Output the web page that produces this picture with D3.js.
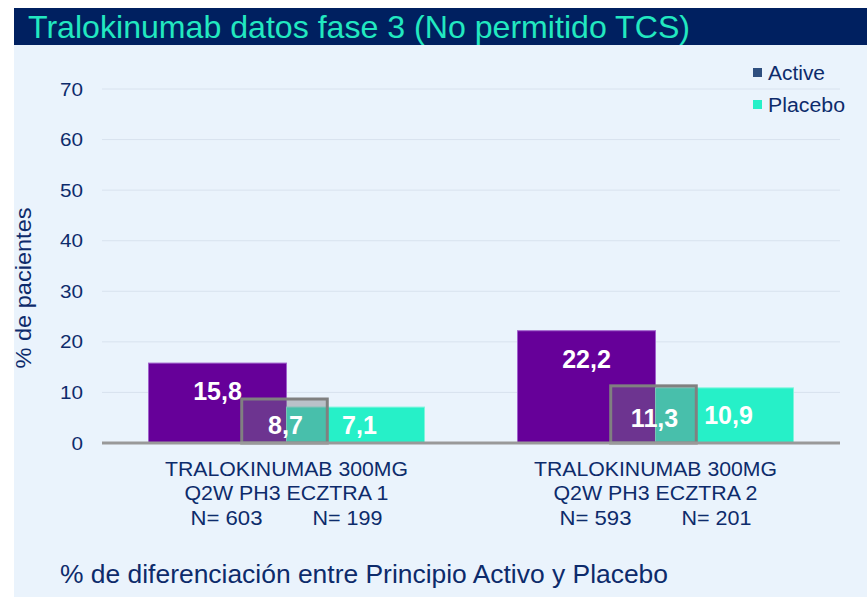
<!DOCTYPE html>
<html>
<head>
<meta charset="utf-8">
<script src="https://cdn.jsdelivr.net/npm/d3@7"></script>
<style>
  body { margin: 0; background: #fff; }
  text { font-family: "Liberation Sans", Arial, sans-serif; }
</style>
</head>
<body>
<div id="chart"></div>
<script>
const width = 867;
const height = 597;

// datos
const groups = ["ECZTRA 1", "ECZTRA 2"];
const groupLines = [
    ["TRALOKINUMAB 300MG", "Q2W PH3 ECZTRA 1"],
    ["TRALOKINUMAB 300MG", "Q2W PH3 ECZTRA 2"]
];
const nActive = [603, 593];
const nPlacebo = [199, 201];
const series = ["Active", "Placebo"];
const activeValues = [15.8, 22.2];
const placeboValues = [7.1, 10.9];
const diffValues = [8.7, 11.3];
const yTicks = [0, 10, 20, 30, 40, 50, 60, 70];

const navy = "#0d2b6b";
const colors = { Active: "#660099", Placebo: "#26f0c8" };
const legendColors = { Active: "#2f4f7f", Placebo: "#26f0c8" };

const svg = d3.select("#chart").append("svg")
    .attr("width", width)
    .attr("height", height);

// fondo + bandeau titre
svg.append("rect").attr("x", 14).attr("y", 8).attr("width", width - 14).attr("height", height - 8).attr("fill", "#eaf3fc");
svg.append("rect").attr("x", 14).attr("y", 8).attr("width", width - 14).attr("height", 37).attr("fill", "#002060");
svg.append("text")
    .attr("x", 28).attr("y", 38)
    .attr("fill", "#22e8c0")
    .attr("font-size", 32)
    .attr("textLength", 662).attr("lengthAdjust", "spacingAndGlyphs")
    .text("Tralokinumab datos fase 3 (No permitido TCS)");

const plot = { left: 102, right: 840, top: 89, bottom: 443 };

const y = d3.scaleLinear().domain([0, 70]).range([plot.bottom, plot.top]);
const x0 = d3.scaleBand().domain(groups).range([plot.left, plot.right]);
const x1 = d3.scaleBand().domain(series).range([0, x0.bandwidth()]).paddingOuter(0.337);

// grille
svg.append("g").selectAll("line")
    .data(yTicks.filter(d => d > 0))
    .join("line")
    .attr("x1", plot.left).attr("x2", plot.right)
    .attr("y1", d => y(d)).attr("y2", d => y(d))
    .attr("stroke", "#d8e2ee").attr("stroke-width", 1);

// axe Y
const yAxis = svg.append("g")
    .attr("transform", `translate(${plot.left},0)`)
    .call(d3.axisLeft(y).tickValues(yTicks).tickSize(0).tickPadding(19));
yAxis.select(".domain").remove();
yAxis.selectAll("text")
    .attr("font-size", 19)
    .attr("fill", navy)
    .attr("font-family", "Liberation Sans, Arial, sans-serif")
    .attr("textLength", d => d === 0 ? 11.5 : 23)
    .attr("lengthAdjust", "spacingAndGlyphs");

svg.append("text")
    .attr("transform", `translate(31,288) rotate(-90)`)
    .attr("text-anchor", "middle")
    .attr("font-size", 22)
    .attr("fill", navy)
    .attr("textLength", 161).attr("lengthAdjust", "spacingAndGlyphs")
    .text("% de pacientes");

// barres
const bars = [];
groups.forEach((g, i) => {
    bars.push({ g, s: "Active", v: activeValues[i] });
    bars.push({ g, s: "Placebo", v: placeboValues[i] });
});

svg.append("g").selectAll("rect")
    .data(bars)
    .join("rect")
    .attr("x", d => x0(d.g) + x1(d.s))
    .attr("y", d => y(d.v))
    .attr("width", x1.bandwidth())
    .attr("height", d => y(0) - y(d.v))
    .attr("fill", d => colors[d.s])
    .attr("stroke", d => d.s === "Active" ? "#a060cc" : "#7ff5dc")
    .attr("stroke-width", 1);

function labelY(top, bottom) {
    return Math.min((top + bottom) / 2, top + 28) + 9;
}

svg.append("g").selectAll("text")
    .data(bars)
    .join("text")
    .attr("x", d => x0(d.g) + x1(d.s) + x1.bandwidth() / 2 + (d.s === "Placebo" ? 4 : 0))
    .attr("y", d => labelY(y(d.v), y(0)))
    .attr("text-anchor", "middle")
    .attr("font-size", 25)
    .attr("font-weight", "bold")
    .attr("fill", "#fff")
    .text(d => d3.format(".1f")(d.v).replace(".", ","));

// boîte de différence
const boxW = x1.bandwidth() * 0.62;
const diffG = svg.append("g").selectAll("g")
    .data(groups.map((g, i) => ({ g, v: diffValues[i] })))
    .join("g");
diffG.append("rect")
    .attr("x", d => x0(d.g) + x1("Placebo") - boxW / 2 - 2)
    .attr("y", d => y(d.v))
    .attr("width", boxW)
    .attr("height", d => y(0) - y(d.v))
    .attr("fill", "rgba(120,125,130,0.42)")
    .attr("stroke", "#808080")
    .attr("stroke-width", 3);
diffG.append("text")
    .attr("x", d => x0(d.g) + x1("Placebo") - 1)
    .attr("y", d => (y(d.v) + y(0)) / 2 + 13)
    .attr("text-anchor", "middle")
    .attr("font-size", 25)
    .attr("font-weight", "bold")
    .attr("fill", "#fff")
    .text(d => d3.format(".1f")(d.v).replace(".", ","));

// ligne de base
svg.append("line")
    .attr("x1", plot.left).attr("x2", plot.right)
    .attr("y1", y(0)).attr("y2", y(0))
    .attr("stroke", "#999").attr("stroke-width", 3);

// étiquettes de catégories
groups.forEach((g, i) => {
    const cx = x0(g) + x0.bandwidth() / 2;
    svg.append("text").attr("x", cx).attr("y", 476).attr("text-anchor", "middle")
        .attr("font-size", 21).attr("fill", navy)
        .attr("textLength", 243).attr("lengthAdjust", "spacingAndGlyphs")
        .text(groupLines[i][0]);
    svg.append("text").attr("x", cx).attr("y", 500).attr("text-anchor", "middle")
        .attr("font-size", 21).attr("fill", navy)
        .attr("textLength", 204).attr("lengthAdjust", "spacingAndGlyphs")
        .text(groupLines[i][1]);
    svg.append("text").attr("x", x0(g) + x1("Active") + x1.bandwidth() / 2 + 9).attr("y", 525).attr("text-anchor", "middle")
        .attr("font-size", 21).attr("fill", navy)
        .attr("textLength", 72).attr("lengthAdjust", "spacingAndGlyphs")
        .text("N= " + nActive[i]);
    svg.append("text").attr("x", x0(g) + x1("Placebo") + x1.bandwidth() / 2 - 8).attr("y", 525).attr("text-anchor", "middle")
        .attr("font-size", 21).attr("fill", navy)
        .attr("textLength", 70).attr("lengthAdjust", "spacingAndGlyphs")
        .text("N= " + nPlacebo[i]);
});

// légende
const legendW = { Active: 57, Placebo: 77 };
const legend = svg.append("g").attr("transform", "translate(753,68)");
series.forEach((s, i) => {
    legend.append("rect").attr("x", 0).attr("y", i * 32).attr("width", 9).attr("height", 9)
        .attr("fill", legendColors[s]);
    legend.append("text").attr("x", 15).attr("y", i * 32 + 12)
        .attr("font-size", 20).attr("fill", navy)
        .attr("textLength", legendW[s]).attr("lengthAdjust", "spacingAndGlyphs")
        .text(s);
});

// texte bas
svg.append("text")
    .attr("x", 60).attr("y", 583)
    .attr("font-size", 25)
    .attr("fill", navy)
    .attr("textLength", 608).attr("lengthAdjust", "spacingAndGlyphs")
    .text("% de diferenciación entre Principio Activo y Placebo");
</script>
</body>
</html>
